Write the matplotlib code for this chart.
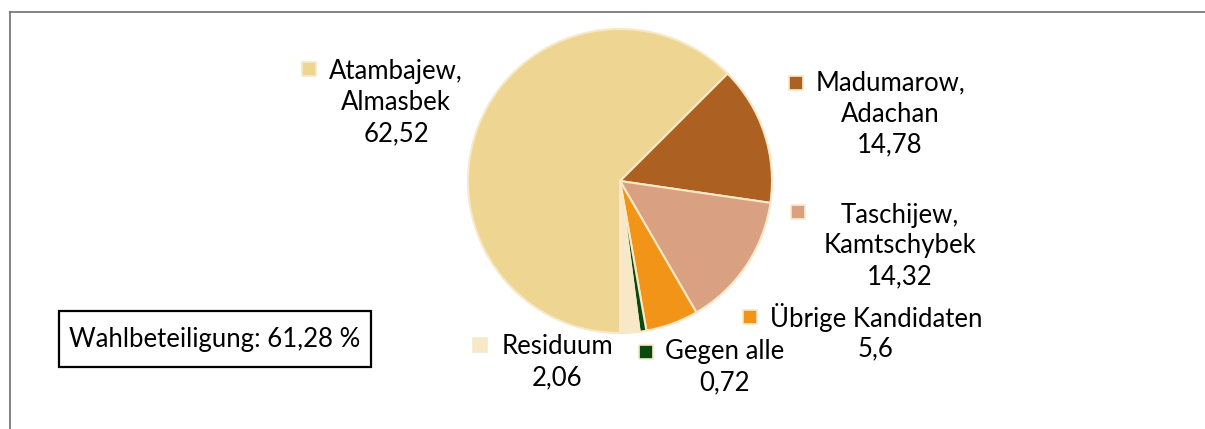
import matplotlib.pyplot as plt
from matplotlib.patches import Rectangle

plt.rcParams['font.family'] = ['Lato', 'DejaVu Sans']

# data
names = ["Atambajew,\nAlmasbek", "Madumarow,\nAdachan", "Taschijew,\nKamtschybek",
         "Übrige Kandidaten", "Gegen alle", "Residuum"]
values = [62.52, 14.78, 14.32, 5.6, 0.72, 2.06]
value_labels = ["62,52", "14,78", "14,32", "5,6", "0,72", "2,06"]
colors = ["#EED592", "#AC6122", "#D9A082", "#F29418", "#0B4A0E", "#F7E9C8"]
turnout = "Wahlbeteiligung: 61,28 %"

W, H = 1205, 429
# label layout in pixels (top-origin): text centre x, first line y, marker x, marker y
label_pos = [(396, 72, 309, 69), (890, 83, 796, 83), (900, 215, 798, 212),
             (876, 318, 750, 317), (725, 352, 646, 352), (557, 347, 480, 345)]
line_h = 31

fig = plt.figure(figsize=(W / 100, H / 100), dpi=100)
ax = fig.add_axes([0, 0, 1, 1])

ax.pie(values, colors=colors, startangle=-90, counterclock=False,
       center=(620, H - 181), radius=152, frame=False,
       wedgeprops=dict(edgecolor="#F7E9C8", linewidth=1.5))

fs = 18.5
for i, (name, col, (tx, ty, mx, my)) in enumerate(zip(names, colors, label_pos)):
    lines = name.split("\n") + [value_labels[i]]
    for k, ln in enumerate(lines):
        ax.text(tx, H - (ty + k * line_h), ln, ha='center', va='center',
                fontsize=fs, color='black')
    ax.plot([mx], [H - my], marker='s', markersize=9.5, color=col,
            markeredgecolor="#F7E9C8", markeredgewidth=1.2)

# turnout box
ax.add_patch(Rectangle((59, H - 367), 312, 56, facecolor='white',
                       edgecolor='black', linewidth=1.6))
ax.text(215, H - 339, turnout, ha='center', va='center', fontsize=fs)

# outer frame (top and left)
ax.plot([9.5, W], [H - 11.5, H - 11.5], color='#707070', lw=1.2)
ax.plot([9.5, 9.5], [0, H - 11.5], color='#707070', lw=1.2)

ax.set_xlim(0, W)
ax.set_ylim(0, H)
ax.set_aspect('equal')
ax.axis('off')

fig.savefig("out.png", dpi=100)
